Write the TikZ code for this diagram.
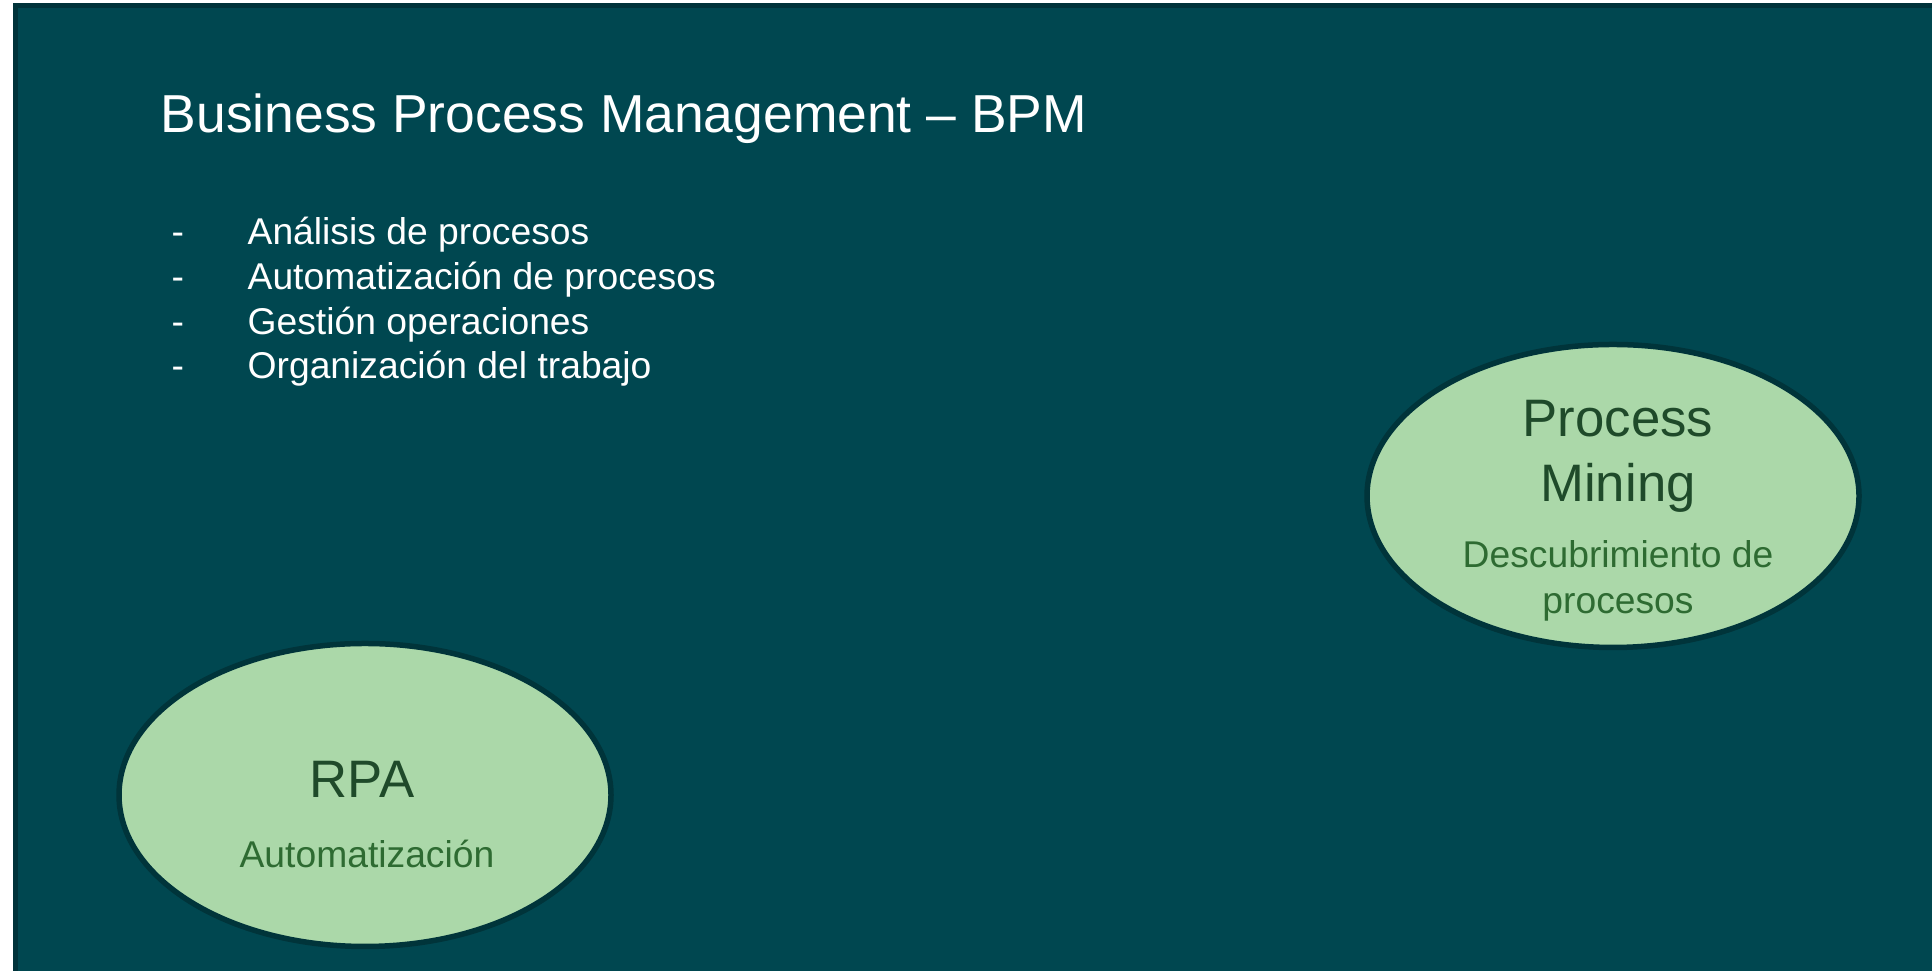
\documentclass[tikz,border=0pt]{standalone}
\usepackage{fontspec}
\setmainfont{Liberation Sans}
\usetikzlibrary{positioning, shapes.geometric}

\definecolor{slide}{RGB}{0,71,80}
\definecolor{slideedge}{RGB}{0,51,58}
\definecolor{leaf}{RGB}{171,216,169}
\definecolor{leafedge}{RGB}{0,52,58}
\definecolor{ink}{RGB}{31,74,42}
\definecolor{subink}{RGB}{46,107,50}

\begin{document}
\begin{tikzpicture}[
     node distance = 3mm and 3mm,
       blob/.style = {ellipse, draw=leafedge, line width=0.055cm, fill=leaf,
                     minimum width=4.92cm, minimum height=3.03cm, inner sep=0pt},
      entry/.style = {anchor=base west, inner sep=0pt, text=white,
                     font=\fontsize{10.6}{12.7}\selectfont},
    bigtext/.style = {anchor=base, inner sep=0pt, text=ink,
                     font=\fontsize{15}{18}\selectfont},
    subtext/.style = {anchor=base, inner sep=0pt, text=subink,
                     font=\fontsize{10.6}{12.7}\selectfont}
                        ]
\useasboundingbox (0,0) rectangle (19.32,9.71);
\clip (0,0) rectangle (19.32,9.71);
% slide background
\draw[draw=slideedge, line width=0.05cm, fill=slide] (0.155,9.655) rectangle (19.6,-0.3);
% heading and list
\node (title) [anchor=base west, inner sep=0pt, text=white,
               font=\fontsize{15.2}{18}\selectfont] at (1.60,8.38) {Business Process Management – BPM};
\node (l1) [entry] at (1.71,7.265) {\makebox[0.76cm][l]{-}Análisis de procesos};
\node (l2) [entry] at (1.71,6.815) {\makebox[0.76cm][l]{-}Automatización de procesos};
\node (l3) [entry] at (1.71,6.365) {\makebox[0.76cm][l]{-}Gestión operaciones};
\node (l4) [entry] at (1.71,5.925) {\makebox[0.76cm][l]{-}Organización del trabajo};
% process mining
\node (pm) [blob] at (16.13,4.75) {};
\node (pmname1) [bigtext] at ([xshift=0.5mm,yshift=5.9mm]pm.center) {Process};
\node (pmname2) [bigtext] at ([xshift=0.5mm,yshift=-0.6mm]pm.center) {Mining};
\node (pmsub1) [subtext] at ([xshift=0.5mm,yshift=-7.2mm]pm.center) {Descubrimiento de};
\node (pmsub2) [subtext] at ([xshift=0.5mm,yshift=-11.8mm]pm.center) {procesos};
% rpa
\node (rpa) [blob] at (3.65,1.76) {};
\node (rpaname) [bigtext] at ([xshift=-0.3mm,yshift=-0.3mm]rpa.center) {RPA};
\node (rpasub) [subtext] at ([xshift=0.2mm,yshift=-7.3mm]rpa.center) {Automatización};
\end{tikzpicture}
\end{document}
